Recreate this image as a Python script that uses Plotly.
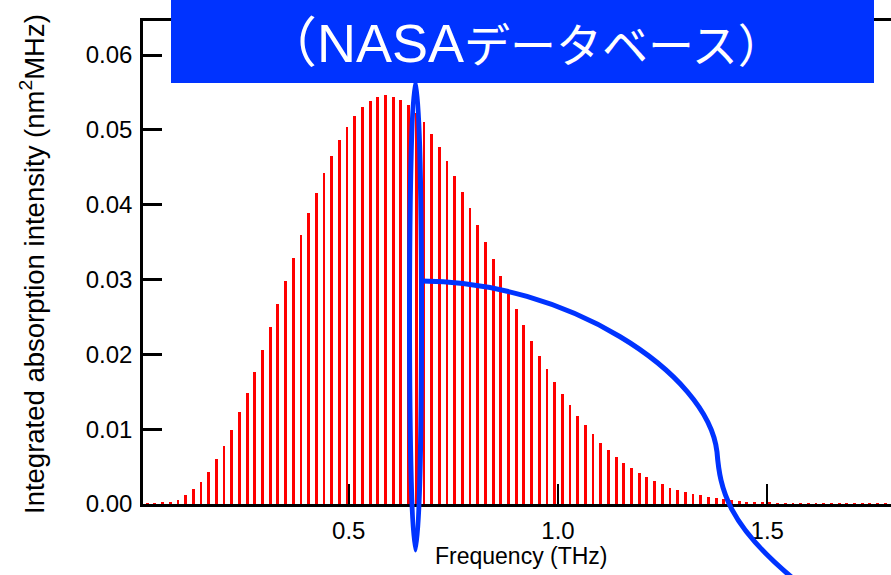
import plotly.graph_objects as go

# ---- data ----
freq_thz = [0.0184, 0.0367, 0.0551, 0.0735, 0.0919, 0.1102, 0.1286, 0.1470, 0.1653, 0.1837,
            0.2021, 0.2204, 0.2388, 0.2572, 0.2756, 0.2939, 0.3123, 0.3307, 0.3490, 0.3674,
            0.3858, 0.4041, 0.4225, 0.4409, 0.4593, 0.4776, 0.4960, 0.5144, 0.5327, 0.5511,
            0.5695, 0.5878, 0.6062, 0.6246, 0.6430, 0.6613, 0.6797, 0.6981, 0.7164, 0.7348,
            0.7532, 0.7715, 0.7899, 0.8083, 0.8267, 0.8450, 0.8634, 0.8818, 0.9001, 0.9185,
            0.9369, 0.9552, 0.9736, 0.9920, 1.0104, 1.0287, 1.0471, 1.0655, 1.0838, 1.1022,
            1.1206, 1.1389, 1.1573, 1.1757, 1.1941, 1.2124, 1.2308, 1.2492, 1.2675, 1.2859,
            1.3043, 1.3226, 1.3410, 1.3594, 1.3778, 1.3961, 1.4145, 1.4329, 1.4512, 1.4696,
            1.4880, 1.5063, 1.5247, 1.5431, 1.5615, 1.5798, 1.5982, 1.6166, 1.6349, 1.6533,
            1.6717, 1.6900, 1.7084, 1.7268, 1.7452, 1.7635, 1.7819]

intensity = [0.0001, 0.0001, 0.0002, 0.0003, 0.0006, 0.0012, 0.0020, 0.0030, 0.0043, 0.0060,
             0.0078, 0.0099, 0.0123, 0.0149, 0.0176, 0.0206, 0.0237, 0.0267, 0.0298, 0.0329,
             0.0359, 0.0389, 0.0416, 0.0442, 0.0465, 0.0487, 0.0504, 0.0519, 0.0531, 0.0539,
             0.0544, 0.0546, 0.0544, 0.0540, 0.0533, 0.0522, 0.0510, 0.0495, 0.0477, 0.0459,
             0.0438, 0.0417, 0.0396, 0.0373, 0.0350, 0.0327, 0.0305, 0.0281, 0.0260, 0.0239,
             0.0218, 0.0198, 0.0181, 0.0163, 0.0147, 0.0132, 0.0118, 0.0105, 0.0093, 0.0082,
             0.0072, 0.0063, 0.0055, 0.0048, 0.0042, 0.0036, 0.0031, 0.0027, 0.0022, 0.0019,
             0.0016, 0.0014, 0.0012, 0.0010, 0.0008, 0.0007, 0.0005, 0.0004, 0.0003, 0.0003,
             0.0002, 0.00015, 0.00012, 0.0001, 0.0001, 0.00008, 0.00007, 0.00006, 0.00005, 0.00005,
             0.00004, 0.00004, 0.00003, 0.00003, 0.00003, 0.00002, 0.00002]

x_tick_vals = [0.5, 1.0, 1.5]
x_tick_text = ["0.5", "1.0", "1.5"]
y_tick_vals = [0.00, 0.01, 0.02, 0.03, 0.04, 0.05, 0.06]
y_tick_text = ["0.00", "0.01", "0.02", "0.03", "0.04", "0.05", "0.06"]

x_title = "Frequency (THz)"
y_title = "Integrated absorption intensity (nm<sup>2</sup>MHz)"
banner_text = "（NASA<span style='font-size:46px'>データベース）</span>"

# ---- layout geometry (pixels) ----
W_FIG, H_FIG = 891, 575
L, R, T, B = 143, 891, 21, 504
PW, PH = R - L, B - T
BLUE = "#0033ff"


def px(x):
    return (x - L) / PW


def py(y):
    return (B - y) / PH


fig = go.Figure()
fig.add_trace(go.Bar(
    x=freq_thz, y=intensity, width=0.0068,
    marker=dict(color="#ff0000", line=dict(width=0)),
    showlegend=False, hoverinfo="x+y",
))

axis_font = dict(family="Liberation Sans, Arial, sans-serif", size=24, color="black")

fig.update_layout(
    width=W_FIG, height=H_FIG,
    margin=dict(l=L, r=W_FIG - R, t=T, b=H_FIG - B, pad=0),
    paper_bgcolor="white", plot_bgcolor="white",
    bargap=0,
    xaxis=dict(range=[0.0084, 1.7957], tickvals=x_tick_vals, ticktext=x_tick_text,
               ticks="inside", ticklen=20, tickwidth=2, tickcolor="black",
               showline=True, linecolor="black", linewidth=2.5, mirror=True,
               showgrid=False, zeroline=False, tickfont=axis_font, ticklabelstandoff=3),
    yaxis=dict(range=[0, 0.06455], tickvals=y_tick_vals, ticktext=y_tick_text,
               ticks="inside", ticklen=19, tickwidth=2.5, tickcolor="black",
               showline=True, linecolor="black", linewidth=2.5,
               showgrid=False, zeroline=False, tickfont=axis_font, ticklabelstandoff=3),
)

fig.add_annotation(xref="paper", yref="paper", x=px(521), y=py(556),
                   text=x_title, showarrow=False, xanchor="center", yanchor="middle",
                   font=dict(family="Liberation Sans, Arial, sans-serif", size=23, color="black"))
fig.add_annotation(xref="paper", yref="paper", x=px(32), y=py(264),
                   text=y_title, showarrow=False, textangle=-90,
                   xanchor="center", yanchor="middle",
                   font=dict(family="Liberation Sans, Arial, sans-serif", size=27.5, color="black"))

# banner
fig.add_shape(type="rect", xref="paper", yref="paper",
              x0=px(171), x1=px(874), y0=py(83), y1=py(-10),
              fillcolor=BLUE, line=dict(width=0), layer="above")
fig.add_annotation(xref="paper", yref="paper", x=px(523), y=py(43),
                   text=banner_text, showarrow=False, xanchor="center", yanchor="middle",
                   font=dict(family="Liberation Sans, Noto Sans CJK JP, sans-serif", size=54,
                             color="white"))

# callout: narrow ellipse and curve
fig.add_shape(type="circle", xref="paper", yref="paper",
              x0=px(409.5), x1=px(421.5), y0=py(550), y1=py(82),
              line=dict(color=BLUE, width=5), layer="above")


def pt(x, y):
    return f"{px(x):.5f},{py(y):.5f}"


path = ("M " + pt(421.5, 281) +
        " C " + pt(565, 281) + " " + pt(708, 372) + " " + pt(717, 452) +
        " C " + pt(720, 490) + " " + pt(728, 525) + " " + pt(795, 580))
fig.add_shape(type="path", xref="paper", yref="paper", path=path,
              line=dict(color=BLUE, width=5), layer="above")

fig.write_html("out.html")
